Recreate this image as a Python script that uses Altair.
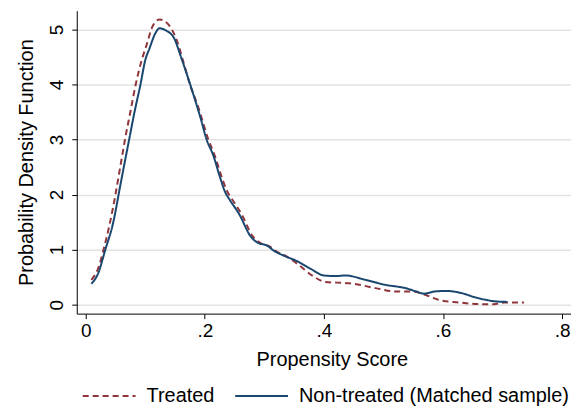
import altair as alt
import pandas as pd

# Non-treated (Matched sample) density
blue_x = [0.0095, 0.021, 0.033, 0.046, 0.057, 0.064, 0.073, 0.082, 0.092, 0.100,
          0.107, 0.118, 0.124, 0.135, 0.149, 0.160, 0.171, 0.184, 0.194, 0.203,
          0.214, 0.226, 0.234, 0.241, 0.258, 0.277, 0.288, 0.305, 0.316, 0.335,
          0.355, 0.378, 0.400, 0.420, 0.436, 0.470, 0.503, 0.537, 0.555, 0.568,
          0.587, 0.606, 0.631, 0.655, 0.671, 0.687, 0.708]
blue_y = [0.38, 0.57, 1.00, 1.48, 2.10, 2.50, 3.00, 3.50, 4.00, 4.44,
          4.65, 4.95, 5.02, 4.98, 4.83, 4.50, 4.15, 3.71, 3.35, 3.00,
          2.72, 2.30, 2.05, 1.92, 1.64, 1.24, 1.13, 1.07, 0.98, 0.88,
          0.79, 0.65, 0.53, 0.52, 0.53, 0.45, 0.36, 0.30, 0.24, 0.20,
          0.24, 0.25, 0.21, 0.13, 0.09, 0.06, 0.05]

# Treated density
red_x = [0.0095, 0.023, 0.030, 0.040, 0.050, 0.058, 0.066, 0.075, 0.084, 0.093,
         0.102, 0.113, 0.124, 0.138, 0.152, 0.163, 0.175, 0.188, 0.206, 0.217,
         0.229, 0.238, 0.245, 0.262, 0.280, 0.292, 0.310, 0.320, 0.340, 0.358,
         0.383, 0.403, 0.442, 0.487, 0.520, 0.548, 0.570, 0.592, 0.626, 0.659,
         0.682, 0.704, 0.736]
red_y = [0.45, 0.72, 1.00, 1.45, 2.00, 2.50, 3.00, 3.50, 4.00, 4.40,
         4.71, 5.07, 5.18, 5.10, 4.83, 4.45, 4.00, 3.62, 3.00, 2.70,
         2.30, 2.05, 1.93, 1.64, 1.25, 1.13, 1.05, 0.97, 0.86, 0.72,
         0.51, 0.41, 0.39, 0.30, 0.24, 0.24, 0.18, 0.09, 0.04, 0.01,
         0.005, 0.04, 0.04]

series_names = ["Treated", "Non-treated (Matched sample)"]
x_ticks = [0, 0.2, 0.4, 0.6, 0.8]
y_ticks = [0, 1, 2, 3, 4, 5]

df = pd.concat([
    pd.DataFrame({"x": red_x, "y": red_y, "series": series_names[0], "order": range(len(red_x))}),
    pd.DataFrame({"x": blue_x, "y": blue_y, "series": series_names[1], "order": range(len(blue_x))}),
])

FONT = "Liberation Sans"

chart = alt.Chart(df).mark_line(strokeWidth=2, interpolate="monotone").encode(
    x=alt.X("x:Q",
            scale=alt.Scale(domain=[-0.015, 0.815], nice=False, zero=False),
            axis=alt.Axis(values=x_ticks, labelExpr="datum.value == 0 ? '0' : replace(format(datum.value, '.1f'), '0.', '.')",
                          title="Propensity Score", grid=False,
                          tickSize=5, labelPadding=18, labelBaseline="alphabetic",
                          titleX=256, titleY=52, titleBaseline="alphabetic", titleAlign="center")),
    y=alt.Y("y:Q",
            scale=alt.Scale(domain=[-0.163, 5.34], nice=False, zero=False),
            axis=alt.Axis(values=y_ticks, title="Probability Density Function", grid=True,
                          tickSize=5, labelAngle=270, labelAlign="center",
                          labelBaseline="alphabetic", labelPadding=9,
                          titleX=-44, titleY=152, titleAngle=270, titleAlign="center",
                          titleBaseline="alphabetic")),
    color=alt.Color("series:N", scale=alt.Scale(domain=series_names, range=["#90353B", "#1A476F"]),
                    legend=alt.Legend(title=None)),
    strokeDash=alt.StrokeDash("series:N", scale=alt.Scale(domain=series_names, range=[[6, 4], [1, 0]]),
                              legend=alt.Legend(title=None)),
    order="order:Q",
).properties(
    width=496, height=304,
    autosize=alt.AutoSizeParams(type="none"),
    padding={"left": 69, "top": 2, "right": 0, "bottom": 92},
).configure_view(
    stroke=None
).configure_axis(
    labelFont=FONT, titleFont=FONT, labelFontSize=19, titleFontSize=20,
    labelColor="black", titleColor="black", titleFontWeight="normal",
    domainColor="black", domainWidth=1, tickColor="black", tickWidth=1,
    gridColor="#e3e3e3", gridWidth=1.5,
).configure_legend(
    orient="none", legendX=5, legendY=359, direction="horizontal",
    symbolType="stroke", symbolSize=2809, symbolStrokeWidth=2,
    labelFont=FONT, labelFontSize=20, labelColor="black", labelOffset=10,
    labelLimit=400, columnPadding=16, padding=0,
)

chart.save("out.html", embed_options={"renderer": "svg", "actions": False})
